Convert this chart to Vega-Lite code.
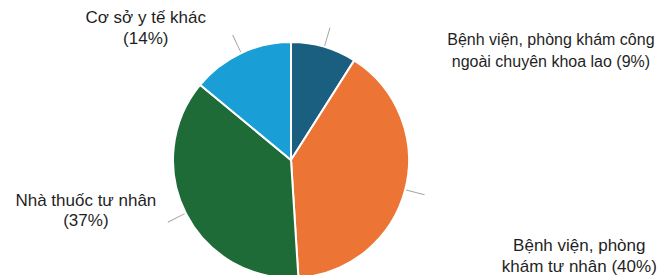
{
  "$schema": "https://vega.github.io/schema/vega-lite/v6.json",
  "width": 669,
  "height": 275,
  "autosize": "none",
  "padding": 0,
  "background": "white",
  "config": {"view": {"stroke": null}},
  "data": {
    "values": [
      {"category": "Bệnh viện, phòng khám công ngoài chuyên khoa lao", "label": "Bệnh viện, phòng khám công\nngoài chuyên khoa lao (9%)", "value": 9, "order": 1},
      {"category": "Bệnh viện, phòng khám tư nhân", "label": "Bệnh viện, phòng\nkhám tư nhân (40%)", "value": 40, "order": 2},
      {"category": "Nhà thuốc tư nhân", "label": "Nhà thuốc tư nhân\n(37%)", "value": 37, "order": 3},
      {"category": "Cơ sở y tế khác", "label": "Cơ sở y tế khác\n(14%)", "value": 14, "order": 4}
    ]
  },
  "layer": [
    {
      "mark": {"type": "arc", "radius": 118, "stroke": "white", "strokeWidth": 2, "xOffset": -43.5, "yOffset": 22.5},
      "encoding": {
        "theta": {"field": "value", "type": "quantitative", "stack": true},
        "order": {"field": "order", "type": "quantitative"},
        "color": {
          "field": "category", "type": "nominal", "legend": null,
          "scale": {
            "domain": ["Bệnh viện, phòng khám công ngoài chuyên khoa lao", "Bệnh viện, phòng khám tư nhân", "Nhà thuốc tư nhân", "Cơ sở y tế khác"],
            "range": ["#1b5f80", "#ec7434", "#1e6b37", "#1a9ed6"]
          }
        }
      }
    },
    {
      "transform": [
        {"window": [{"op": "sum", "field": "value", "as": "cum"}], "sort": [{"field": "order"}]},
        {"calculate": "datum.cum - datum.value / 2", "as": "mid"},
        {"calculate": "datum.mid + 0.12", "as": "mid2"}
      ],
      "mark": {"type": "arc", "radius": 119, "radius2": 138, "color": "#a6a6a6", "xOffset": -43.5, "yOffset": 22.5},
      "encoding": {
        "theta": {"field": "mid", "type": "quantitative", "stack": null, "scale": {"domain": [0, 100], "range": [0, 6.283185307]}},
        "theta2": {"field": "mid2"}
      }
    },
    {
      "mark": {"type": "text", "radius": 118, "xOffset": -43.5, "yOffset": 22.5, "dx": 227, "dy": -7, "align": "center", "baseline": "middle", "lineBreak": "\n", "font": "Liberation Sans", "fontSize": 16, "lineHeight": 22, "color": "#1f1f1f"},
      "encoding": {
        "theta": {"field": "value", "type": "quantitative", "stack": true},
        "order": {"field": "order", "type": "quantitative"},
        "text": {"condition": {"test": "datum.order == 1", "field": "label"}, "value": ""}
      }
    },
    {
      "mark": {"type": "text", "radius": 118, "xOffset": -43.5, "yOffset": 22.5, "dx": 174, "dy": 57, "align": "center", "baseline": "middle", "lineBreak": "\n", "font": "Liberation Sans", "fontSize": 17, "lineHeight": 20.5, "color": "#1f1f1f"},
      "encoding": {
        "theta": {"field": "value", "type": "quantitative", "stack": true},
        "order": {"field": "order", "type": "quantitative"},
        "text": {"condition": {"test": "datum.order == 2", "field": "label"}, "value": ""}
      }
    },
    {
      "mark": {"type": "text", "radius": 118, "xOffset": -43.5, "yOffset": 22.5, "dx": -100, "dy": -13, "align": "center", "baseline": "middle", "lineBreak": "\n", "font": "Liberation Sans", "fontSize": 17, "lineHeight": 20.5, "color": "#1f1f1f"},
      "encoding": {
        "theta": {"field": "value", "type": "quantitative", "stack": true},
        "order": {"field": "order", "type": "quantitative"},
        "text": {"condition": {"test": "datum.order == 3", "field": "label"}, "value": ""}
      }
    },
    {
      "mark": {"type": "text", "radius": 118, "xOffset": -43.5, "yOffset": 22.5, "dx": -95, "dy": -35, "align": "center", "baseline": "middle", "lineBreak": "\n", "font": "Liberation Sans", "fontSize": 17, "lineHeight": 20.5, "color": "#1f1f1f"},
      "encoding": {
        "theta": {"field": "value", "type": "quantitative", "stack": true},
        "order": {"field": "order", "type": "quantitative"},
        "text": {"condition": {"test": "datum.order == 4", "field": "label"}, "value": ""}
      }
    }
  ],
  "resolve": {"scale": {"theta": "independent"}}
}
